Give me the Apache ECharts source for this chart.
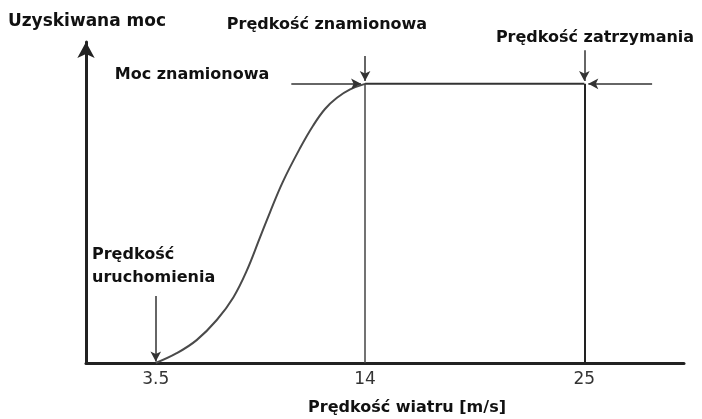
<!DOCTYPE html>
<html>
<head>
<meta charset="utf-8">
<script src="https://cdn.jsdelivr.net/npm/echarts@6/dist/echarts.min.js"></script>
<style>
  html, body { margin: 0; padding: 0; background: #fff; }
  #chart { width: 702px; height: 419px; }
</style>
</head>
<body>
<div id="chart"></div>
<script>
// wind speed [m/s] and relative power
var curveX = [3.5, 4.55, 5.55, 6.56, 7.39, 8.06, 8.73, 9.23, 9.88, 10.74, 11.39, 11.99, 12.59, 13.25, 14];
var curveY = [0, 0.035, 0.082, 0.154, 0.235, 0.33, 0.45, 0.54, 0.65, 0.77, 0.85, 0.91, 0.95, 0.98, 1];
var flatX = [14, 25];
var tickValues = [3.5, 14, 25];
var ratedPower = 1;
var cutIn = 3.5, ratedSpeed = 14, cutOut = 25;
var ratedLineLeft = 10.3, ratedLineRight = 28.4;

var font = 'DejaVu Sans';

var chart = echarts.init(document.getElementById('chart'));

function seg(x1, y1, x2, y2, color, width, arrow) {
    return [
        { coord: [x1, y1], symbol: 'none' },
        {
            coord: [x2, y2],
            symbol: arrow ? 'arrow' : 'none',
            symbolSize: [8, 10],
            lineStyle: { color: color, width: width, type: 'solid' }
        }
    ];
}

function label(text, x, y, align, size) {
    return {
        type: 'text', x: x, y: y,
        style: {
            text: text,
            font: 'bold ' + (size || 16) + 'px "' + font + '"',
            fill: '#111',
            align: align || 'center',
            verticalAlign: 'middle'
        }
    };
}

chart.setOption({
    animation: false,
    grid: { left: 86, right: 18, top: 42, bottom: 56 },
    xAxis: {
        type: 'value',
        min: 0,
        max: 30,
        splitLine: { show: false },
        axisTick: { show: false },
        axisLine: { lineStyle: { color: '#222', width: 3 } },
        axisLabel: {
            customValues: tickValues,
            color: '#333',
            fontFamily: font,
            fontSize: 17,
            margin: 8
        }
    },
    yAxis: {
        type: 'value',
        min: 0,
        max: 1.15,
        splitLine: { show: false },
        axisTick: { show: false },
        axisLabel: { show: false },
        axisLine: {
            lineStyle: { color: '#222', width: 3 },
            symbol: ['none', 'arrow'],
            symbolSize: [13, 16]
        }
    },
    series: [
        {
            type: 'line',
            data: curveX.map(function (x, i) { return [x, curveY[i]]; }),
            smooth: 0.4,
            showSymbol: false,
            lineStyle: { color: '#4a4a4a', width: 2 }
        },
        {
            type: 'line',
            data: flatX.map(function (x) { return [x, ratedPower]; }),
            showSymbol: false,
            lineStyle: { color: '#333', width: 2 },
            markLine: {
                silent: true,
                label: { show: false },
                data: [
                    seg(ratedSpeed, 0, ratedSpeed, ratedPower, '#444', 1.5, false),
                    seg(cutOut, 0, cutOut, ratedPower, '#222', 2, false),
                    seg(ratedLineLeft, ratedPower, ratedSpeed - 0.2, ratedPower, '#333', 1.5, true),
                    seg(ratedLineRight, ratedPower, cutOut + 0.2, ratedPower, '#333', 1.5, true),
                    seg(ratedSpeed, 1.1, ratedSpeed, ratedPower + 0.01, '#333', 1.5, true),
                    seg(cutOut, 1.12, cutOut, ratedPower + 0.01, '#333', 1.5, true),
                    seg(cutIn, 0.24, cutIn, 0.005, '#333', 1.5, true)
                ]
            }
        }
    ],
    graphic: [
        label('Uzyskiwana moc', 87, 22, 'center', 17),
        label('Prędkość znamionowa', 327, 25),
        label('Prędkość zatrzymania', 595, 38),
        label('Moc znamionowa', 192, 75),
        label('Prędkość', 92, 255, 'left'),
        label('uruchomienia', 92, 278, 'left'),
        label('Prędkość wiatru [m/s]', 407, 408)
    ]
});
</script>
</body>
</html>
